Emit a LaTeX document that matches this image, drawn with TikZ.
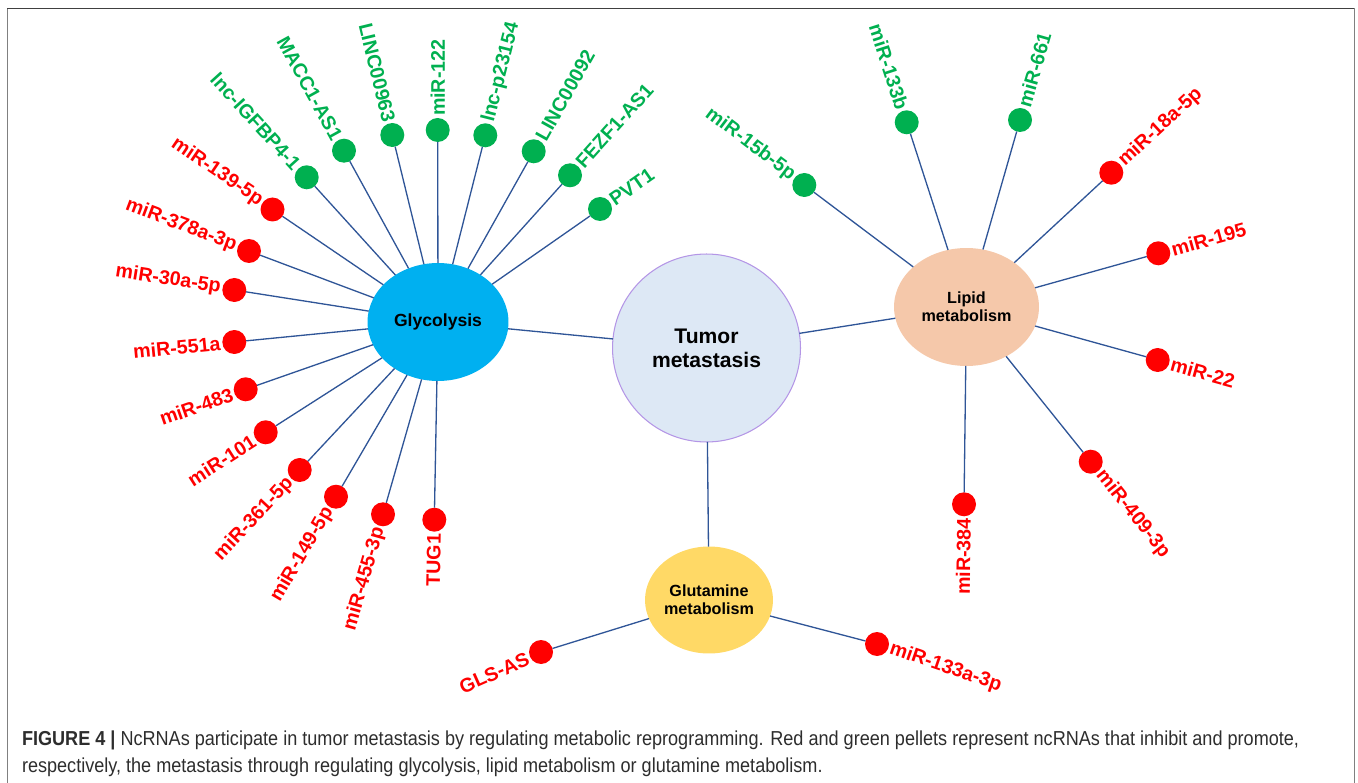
\documentclass[tikz,border=0pt]{standalone}
\usepackage{fontspec}
\setmainfont{Liberation Sans}
\newfontfamily\capfont[FakeStretch=0.895]{Liberation Sans}
\usetikzlibrary{shapes.geometric}
\definecolor{spokeblue}{RGB}{47,85,151}
\definecolor{pgreen}{RGB}{0,176,80}
\definecolor{pred}{RGB}{255,0,0}
\definecolor{glyfill}{RGB}{0,176,240}
\definecolor{lipfill}{RGB}{245,200,170}
\definecolor{glufill}{RGB}{255,217,102}
\definecolor{tumfill}{RGB}{221,232,245}
\definecolor{tumline}{RGB}{180,150,230}
\definecolor{capgray}{RGB}{45,45,45}

\begin{document}
\begin{tikzpicture}[x=0.02cm, y=-0.02cm,
  every node/.style={outer sep=0pt},
  hub/.style={ellipse, inner sep=0pt, align=center, font=\bfseries\fontsize{9.2}{10}\selectfont},
  gdot/.style={circle, fill=pgreen, minimum size=0.48cm, inner sep=0pt},
  rdot/.style={circle, fill=pred, minimum size=0.48cm, inner sep=0pt},
  glbl/.style={text=pgreen, inner xsep=0.28cm, inner ysep=0pt, font=\bfseries\fontsize{11.2}{13}\selectfont},
  rlbl/.style={glbl, text=pred},
  lt/.style={anchor=east, rotate=#1},
  rt/.style={anchor=west, rotate=#1},
  spoke/.style={draw=spokeblue, line width=0.75pt}]
\useasboundingbox (0,0) rectangle (1358,783);

% frame
\draw[gray, line width=1.1pt] (7.5,783) -- (7.5,8.5);
\draw[black!75, line width=1.1pt] (7,8.5) -- (1355,8.5);
\draw[gray, line width=1.1pt] (1354.5,8.5) -- (1354.5,783);

% hubs
\node[hub, circle, draw=tumline, fill=tumfill, line width=0.6pt, minimum size=3.76cm,
  font=\bfseries\fontsize{12}{13.6}\selectfont] (tumor) at (706.5,348) {Tumor\\metastasis};
\node[hub, fill=glyfill, minimum width=2.82cm, minimum height=2.36cm,
  font=\bfseries\fontsize{10}{12}\selectfont] (glyc) at (438,322) {Glycolysis};
\node[hub, fill=lipfill, minimum width=2.9cm, minimum height=2.36cm] (lipid) at (966.5,307) {Lipid\\metabolism};
\node[hub, fill=glufill, minimum width=2.56cm, minimum height=2.14cm] (gluta) at (709,600) {Glutamine\\metabolism};

% glycolysis
\node[gdot] (g1) at (306.7,177.3) {};
\node[gdot] (g2) at (344,150.7) {};
\node[gdot] (g3) at (392.3,135) {};
\node[gdot] (g4) at (437.7,130) {};
\node[gdot] (g5) at (485.3,135.3) {};
\node[gdot] (g6) at (533.7,151.3) {};
\node[gdot] (g7) at (570,175.3) {};
\node[gdot] (g8) at (600,209) {};
\node[rdot] (r1) at (272.5,209.5) {};
\node[rdot] (r2) at (249,251) {};
\node[rdot] (r3) at (234.3,290) {};
\node[rdot] (r4) at (234.3,342) {};
\node[rdot] (r5) at (245.7,389.3) {};
\node[rdot] (r6) at (265.7,432.3) {};
\node[rdot] (r7) at (299.7,470) {};
\node[rdot] (r8) at (336,496.7) {};
\node[rdot] (r9) at (383,514.3) {};
\node[rdot] (r10) at (434.3,519.7) {};

\node[glbl, lt=-47.8] (g1t) at (g1) {lnc-IGFBP4-1};
\node[glbl, lt=-61.2] (g2t) at (g2) {MACC1-AS1};
\node[glbl, lt=-76.3] (g3t) at (g3) {LINC00963};
\node[glbl, rt=90] (g4t) at (g4) {miR-122};
\node[glbl, rt=75.8] (g5t) at (g5) {lnc-p23154};
\node[glbl, rt=60.7] (g6t) at (g6) {LINC00092};
\node[glbl, rt=48] (g7t) at (g7) {FEZF1-AS1};
\node[glbl, rt=34.9] (g8t) at (g8) {PVT1};
\node[rlbl, lt=-34.2] (r1t) at (r1) {miR-139-5p};
\node[rlbl, lt=-20.6] (r2t) at (r2) {miR-378a-3p};
\node[rlbl, lt=-8.9] (r3t) at (r3) {miR-30a-5p};
\node[rlbl, lt=5.6] (r4t) at (r4) {miR-551a};
\node[rlbl, lt=19.3] (r5t) at (r5) {miR-483};
\node[rlbl, lt=32.6] (r6t) at (r6) {miR-101};
\node[rlbl, lt=46.9] (r7t) at (r7) {miR-361-5p};
\node[rlbl, lt=59.7] (r8t) at (r8) {miR-149-5p};
\node[rlbl, lt=74] (r9t) at (r9) {miR-455-3p};
\node[rlbl, lt=88.9] (r10t) at (r10) {TUG1};

% lipid metabolism
\node[gdot] (l1) at (804.3,185) {};
\node[gdot] (l2) at (906.7,122.3) {};
\node[gdot] (l3) at (1020,120) {};
\node[rdot] (l4) at (1111.3,172.7) {};
\node[rdot] (l5) at (1158.3,253.3) {};
\node[rdot] (l6) at (1157.7,360) {};
\node[rdot] (l7) at (1090.7,461.7) {};
\node[rdot] (l8) at (964,504.3) {};

\node[glbl, lt=-37] (l1t) at (l1) {miR-15b-5p};
\node[glbl, lt=-72.1] (l2t) at (l2) {miR-133b};
\node[glbl, rt=74] (l3t) at (l3) {miR-661};
\node[rlbl, rt=42.8] (l4t) at (l4) {miR-18a-5p};
\node[rlbl, rt=15.6] (l5t) at (l5) {miR-195};
\node[rlbl, rt=-15.5] (l6t) at (l6) {miR-22};
\node[rlbl, rt=-51.2] (l7t) at (l7) {miR-409-3p};
\node[rlbl, lt=89.3] (l8t) at (l8) {miR-384};

% glutamine metabolism
\node[rdot] (q1) at (541,652) {};
\node[rdot] (q2) at (877,644) {};
\node[rlbl, lt=24] (q1t) at (q1) {GLS-AS};
\node[rlbl, rt=-19] (q2t) at (q2) {miR-133a-3p};

% connectors
\draw[spoke] (tumor) -- (glyc) (tumor) -- (lipid) (tumor) -- (gluta);
\draw[spoke] (glyc) -- (g1) (glyc) -- (g2) (glyc) -- (g3) (glyc) -- (g4)
  (glyc) -- (g5) (glyc) -- (g6) (glyc) -- (g7) (glyc) -- (g8);
\draw[spoke] (glyc) -- (r1) (glyc) -- (r2) (glyc) -- (r3) (glyc) -- (r4) (glyc) -- (r5)
  (glyc) -- (r6) (glyc) -- (r7) (glyc) -- (r8) (glyc) -- (r9) (glyc) -- (r10);
\draw[spoke] (lipid) -- (l1) (lipid) -- (l2) (lipid) -- (l3) (lipid) -- (l4)
  (lipid) -- (l5) (lipid) -- (l6) (lipid) -- (l7) (lipid) -- (l8);
\draw[spoke] (gluta) -- (q1) (gluta) -- (q2);

% caption
\node[anchor=base west, inner sep=0pt, text=capgray, font=\capfont\fontsize{11.5}{13}\selectfont] (cap1) at (22,745)
  {\textbf{FIGURE 4 |} NcRNAs participate in tumor metastasis by regulating metabolic reprogramming. Red and green pellets represent ncRNAs that inhibit and promote,};
\node[anchor=base west, inner sep=0pt, text=capgray, font=\capfont\fontsize{11.5}{13}\selectfont] (cap2) at (22,772)
  {respectively, the metastasis through regulating glycolysis, lipid metabolism or glutamine metabolism.};
\end{tikzpicture}
\end{document}
